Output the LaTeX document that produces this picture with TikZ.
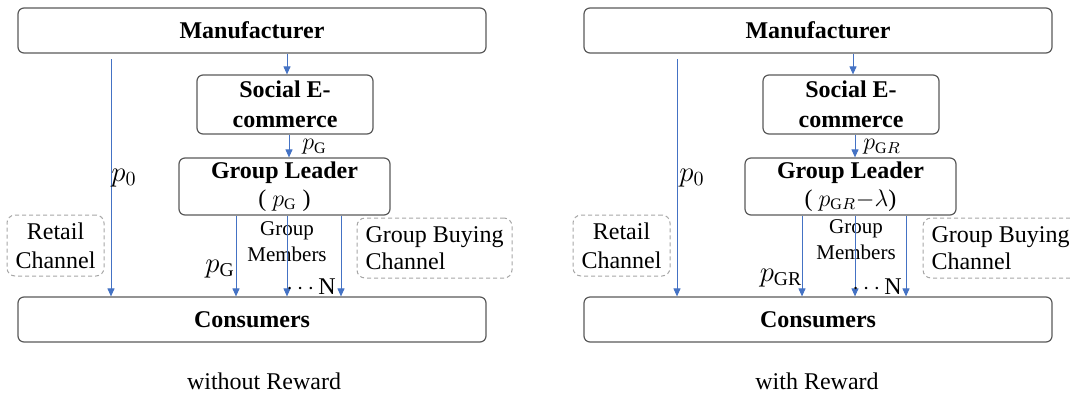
\documentclass[tikz,border=0pt]{standalone}
\usepackage{fontspec}
\setmainfont{Liberation Serif}
\usetikzlibrary{arrows.meta}
\definecolor{flowblue}{HTML}{4472C4}
\definecolor{boxgray}{HTML}{595959}
\definecolor{dashgray}{HTML}{A6A6A6}
\tikzset{
  player/.style={draw=boxgray, line width=0.6pt, rounded corners=3pt, align=center, inner sep=0pt,
    font=\bfseries\fontsize{12}{15.5}\selectfont},
  channel/.style={draw=dashgray, dash pattern=on 2pt off 1.5pt, line width=0.5pt, rounded corners=4pt,
    inner sep=0pt, font=\fontsize{12}{14.5}\selectfont},
  flow/.style={flowblue, line width=0.5pt, -{Triangle[length=4pt,width=3.5pt]}},
  lab/.style={inner sep=0pt, font=\fontsize{14}{16}\selectfont},
  members/.style={inner sep=0pt, align=center, font=\fontsize{10.5}{13}\selectfont},
}

\begin{document}
\begin{tikzpicture}[x=0.5pt, y=-0.5pt]
   \useasboundingbox (0,0) rectangle (1070,397);
   % without reward
   \node[player, minimum width=234pt, minimum height=22.5pt] (mfrA) at (252,30.5) {Manufacturer};
   \node[player, minimum width=88pt, minimum height=29.5pt, font=\bfseries\fontsize{12}{15}\selectfont] (socA) at (285,104.5)
      {Social E-\\commerce};
   \node[player, minimum width=105.5pt, minimum height=28.5pt, font=\bfseries\fontsize{12}{14}\selectfont] (leadA) at (284.5,186.5)
      {Group Leader\\\mdseries( $p_{\mathrm{G}}$ )};
   \node[player, minimum width=234pt, minimum height=22.5pt] (consA) at (252,319.5) {Consumers};
   \node[channel, minimum width=48.5pt, minimum height=30.5pt, align=center] (retailA) at (55.5,245.5) {Retail\\Channel};
   \node[channel, minimum width=77.5pt, minimum height=30pt, align=left, font=\fontsize{12}{13.5}\selectfont] (gbcA) at (434.5,248)
      {Group Buying\\Channel};
   \coordinate (topA) at (111,59);
   \draw[flow] (287,0 |- mfrA.south) -- (287,0 |- socA.north);
   \draw[flow] (289,0 |- socA.south) -- (289,0 |- leadA.north);
   \draw[flow] (topA) -- (topA |- consA.north);
   \node[members] (memA) at (287,242) {Group\\Members};
   \draw[flow] (236,0 |- leadA.south) -- (236,0 |- consA.north);
   \draw[flow] (287,0 |- leadA.south) -- (287,0 |- consA.north);
   \draw[flow] (341,0 |- leadA.south) -- (341,0 |- consA.north);
   \node[lab, anchor=west, font=\fontsize{12}{13}\selectfont] (pgA) at (302,147) {$p_{\mathrm{G}}$};
   \node[lab] (pzA) at (124,178) {$p_0$};
   \node[lab] (pgbA) at (220,269) {$p_{\mathrm{G}}$};
   \node[lab, anchor=east, font=\fontsize{12}{14}\selectfont] (nA) at (336,287) {$\cdots$\,N};
   \node[lab, font=\fontsize{12}{14}\selectfont] (capA) at (264,381) {without Reward};
   % with reward
   \node[player, minimum width=234pt, minimum height=22.5pt] (mfrB) at (818,30.5) {Manufacturer};
   \node[player, minimum width=88pt, minimum height=29.5pt, font=\bfseries\fontsize{12}{15}\selectfont] (socB) at (851,104.5)
      {Social E-\\commerce};
   \node[player, minimum width=105.5pt, minimum height=28.5pt, font=\bfseries\fontsize{12}{14}\selectfont] (leadB) at (850.5,186.5)
      {Group Leader\\\mdseries( $p_{\mathrm{G}R}{-}\lambda$)};
   \node[player, minimum width=234pt, minimum height=22.5pt] (consB) at (818,319.5) {Consumers};
   \node[channel, minimum width=48.5pt, minimum height=30.5pt, align=center] (retailB) at (621.5,245.5) {Retail\\Channel};
   \node[channel, minimum width=77.5pt, minimum height=30pt, align=left, font=\fontsize{12}{13.5}\selectfont] (gbcB) at (1000.5,248)
      {Group Buying\\Channel};
   \coordinate (topB) at (677,59);
   \draw[flow] (853,0 |- mfrB.south) -- (853,0 |- socB.north);
   \draw[flow] (855,0 |- socB.south) -- (855,0 |- leadB.north);
   \draw[flow] (topB) -- (topB |- consB.north);
   \node[members] (memB) at (856,240) {Group\\Members};
   \draw[flow] (802,0 |- leadB.south) -- (802,0 |- consB.north);
   \draw[flow] (855,0 |- leadB.south) -- (855,0 |- consB.north);
   \draw[flow] (906,0 |- leadB.south) -- (906,0 |- consB.north);
   \node[lab, anchor=west, font=\fontsize{12}{13}\selectfont] (pgB) at (863,147) {$p_{\mathrm{G}R}$};
   \node[lab] (pzB) at (692,178) {$p_0$};
   \node[lab] (pgbB) at (781,278) {$p_{\mathrm{GR}}$};
   \node[lab, anchor=east, font=\fontsize{12}{14}\selectfont] (nB) at (902,287) {$\cdots$\,N};
   \node[lab, font=\fontsize{12}{14}\selectfont] (capB) at (817,381) {with Reward};
\end{tikzpicture}
\end{document}
